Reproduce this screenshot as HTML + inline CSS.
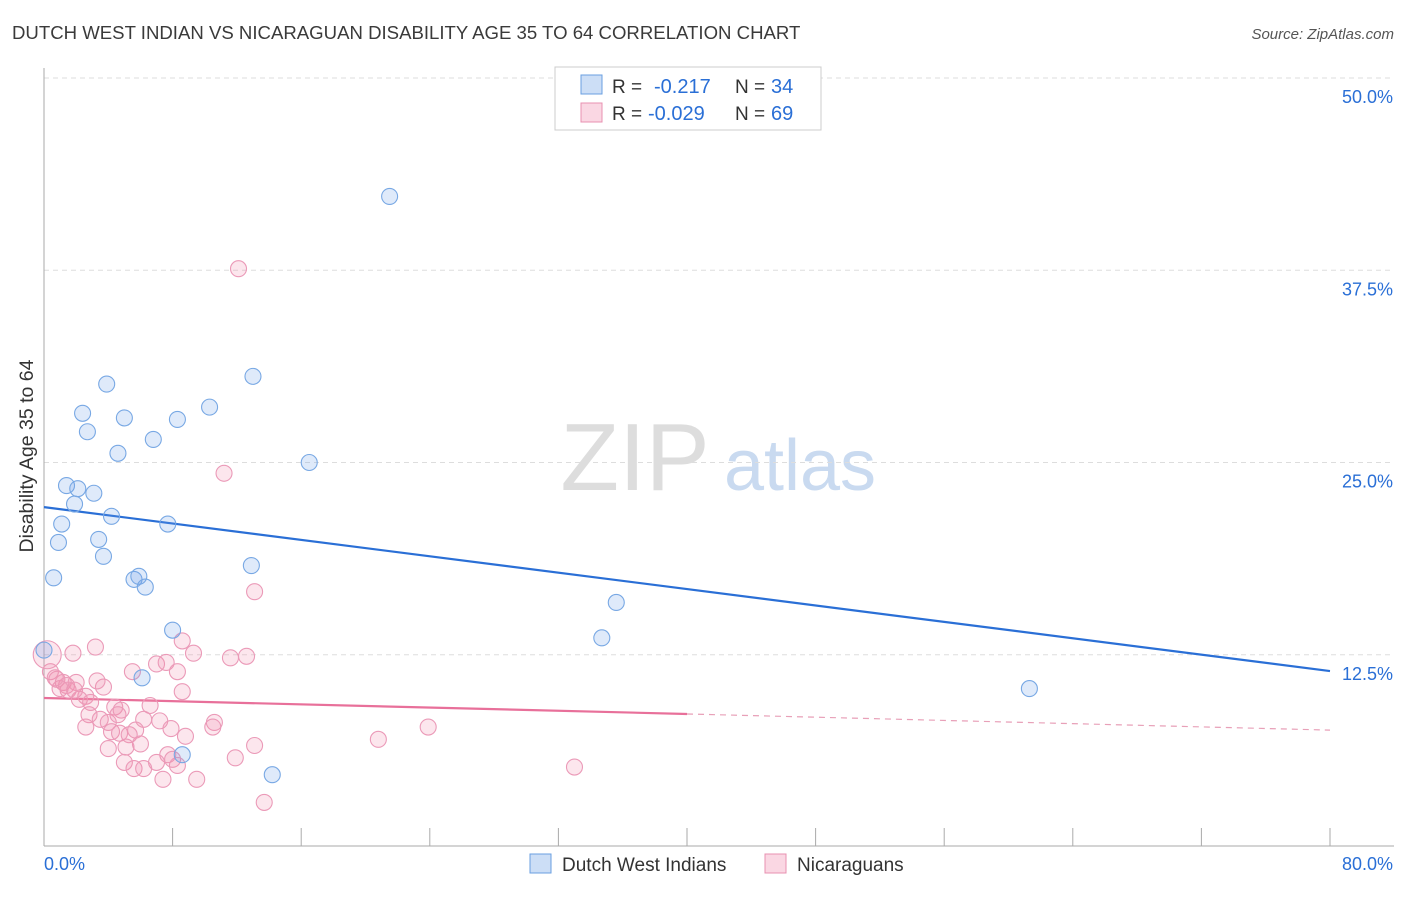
<!DOCTYPE html>
<html><head><meta charset="utf-8"><style>
body{margin:0;background:#fff;font-family:"Liberation Sans",sans-serif;}
svg text{font-family:"Liberation Sans",sans-serif;}
</style></head><body>
<svg id="chart" width="1406" height="892" xmlns="http://www.w3.org/2000/svg">
<text x="12" y="39" font-size="18.6" fill="#3a3a3a">DUTCH WEST INDIAN VS NICARAGUAN DISABILITY AGE 35 TO 64 CORRELATION CHART</text>
<text x="1394" y="39" font-size="15" fill="#555" text-anchor="end" font-style="italic">Source: ZipAtlas.com</text>
<text transform="translate(33,456) rotate(-90)" font-size="19.5" fill="#333" text-anchor="middle">Disability Age 35 to 64</text>
<g>
<text x="635" y="490" font-size="96" fill="#ddd" text-anchor="middle" font-family="Liberation Serif">ZIP</text>
<text x="800" y="490" font-size="72" fill="#c9daf0" text-anchor="middle">atlas</text>
</g>
<g id="grid"></g><g id="axes"></g><g id="trends"></g><g id="pts"></g>
<g>
<rect x="555" y="67" width="266" height="63" fill="#fff" stroke="#ccc"/>
<rect x="581" y="75" width="21" height="19" fill="rgba(110,160,230,0.35)" stroke="#6a9fe0"/>
<rect x="581" y="103" width="21" height="19" fill="rgba(240,140,175,0.35)" stroke="#e890b0"/>
<text x="612" y="93" font-size="19" fill="#333">R =</text>
<text x="654" y="93" font-size="20" fill="#2a6fd6">-0.217</text>
<text x="735" y="93" font-size="19" fill="#333">N =</text>
<text x="771" y="93" font-size="20" fill="#2a6fd6">34</text>
<text x="612" y="120" font-size="19" fill="#333">R =</text>
<text x="648" y="120" font-size="20" fill="#2a6fd6">-0.029</text>
<text x="735" y="120" font-size="19" fill="#333">N =</text>
<text x="771" y="120" font-size="20" fill="#2a6fd6">69</text>
</g>
<g>
<rect x="530" y="854" width="21" height="19" fill="rgba(110,160,230,0.35)" stroke="#6a9fe0"/>
<text x="562" y="871" font-size="19" fill="#333">Dutch West Indians</text>
<rect x="765" y="854" width="21" height="19" fill="rgba(240,140,175,0.35)" stroke="#e890b0"/>
<text x="797" y="871" font-size="19" fill="#333">Nicaraguans</text>
</g>
</svg>
<script>
const blueX=[21.5,3.9,13.0,2.4,5.0,10.3,8.3,2.7,6.8,4.6,16.5,1.4,2.1,3.1,1.9,4.2,1.1,7.7,0.9,3.4,3.7,12.9,0.6,5.6,5.9,6.3,35.6,8.0,34.7,0,6.1,61.3,8.6,14.2];
const blueY=[42.3,30.1,30.6,28.2,27.9,28.6,27.8,27.0,26.5,25.6,25.0,23.5,23.3,23.0,22.3,21.5,21.0,21.0,19.8,20.0,18.9,18.3,17.5,17.4,17.6,16.9,15.9,14.1,13.6,12.8,11.0,10.3,6.0,4.7];
const pinkX=[12.1,11.2,13.1,3.2,1.8,8.6,9.3,12.6,11.6,5.5,7.0,7.6,8.3,0.4,0.8,1.2,1.4,2.0,1.5,3.7,3.3,8.6,1.0,2.6,2.2,2.9,6.6,4.4,4.8,2.8,3.5,6.2,7.2,4.0,5.7,10.6,23.9,7.9,8.8,10.5,4.2,4.7,5.3,20.8,4.0,13.1,6.0,5.1,7.7,8.0,5.0,11.9,7.0,8.3,5.6,6.2,33.0,7.4,9.5,13.7,0.2,2.6,4.6,1.9,0.7];
const pinkY=[37.6,24.3,16.6,13.0,12.6,13.4,12.6,12.4,12.3,11.4,11.9,12.0,11.4,11.4,10.9,10.7,10.5,10.7,10.2,10.4,10.8,10.1,10.3,9.8,9.6,9.4,9.2,9.1,8.9,8.6,8.3,8.3,8.2,8.1,7.6,8.1,7.8,7.7,7.2,7.8,7.5,7.4,7.3,7.0,6.4,6.6,6.7,6.5,6.0,5.7,5.5,5.8,5.5,5.3,5.1,5.1,5.2,4.4,4.4,2.9,12.5,7.8,8.6,10.2,11.0];
const yTicks=[12.5,25.0,37.5,50.0];
const xTickVals=[0,8,16,24,32,40,48,56,64,72,80];
const blueTrend=[22.1,11.44];
const pinkTrend=[9.69,8.65,7.6];
const NS="http://www.w3.org/2000/svg";
const X=v=>44+v*(1286/80);
const Y=v=>847-v*(769/50);
function mk(t,a,p){const e=document.createElementNS(NS,t);for(const k in a)e.setAttribute(k,a[k]);p.appendChild(e);return e;}
const grid=document.getElementById('grid'),axes=document.getElementById('axes'),tr=document.getElementById('trends'),pts=document.getElementById('pts');
yTicks.forEach(v=>{
 const l=mk('line',{x1:44,x2:1394,y1:Y(v),y2:Y(v),stroke:'#ddd','stroke-dasharray':'5,4'},grid);
 
 
 const t=mk('text',{x:1393,y:Y(v)+25,'font-size':18,fill:'#2a6fd6','text-anchor':'end'},axes);
 t.textContent=v.toFixed(1)+'%';
 
 
});
const ax=mk('line',{x1:44,x2:44,y1:68,y2:846,stroke:'#aaa'},axes);


const bx=mk('line',{x1:44,x2:1394,y1:846,y2:846,stroke:'#aaa'},axes);


xTickVals.forEach(v=>{
 const l=mk('line',{x1:X(v),x2:X(v),y1:828,y2:846,stroke:'#aaa'},axes);
 
 
});
[[0,'start'],[80,'end']].forEach(([v,a])=>{
 const t=mk('text',{x:v==0?X(v):X(v)+63,y:870,'font-size':18,fill:'#2a6fd6','text-anchor':a},axes);
 t.textContent=v.toFixed(1)+'%';
 
 
});
const bt=mk('line',{x1:X(0),y1:Y(blueTrend[0]),x2:X(80),y2:Y(blueTrend[1]),stroke:'#2a6fd6','stroke-width':2.2},tr);


const pt=mk('line',{x1:X(0),y1:Y(pinkTrend[0]),x2:X(40),y2:Y(pinkTrend[1]),stroke:'#e8709a','stroke-width':2.2},tr);


const pd=mk('line',{x1:X(40),y1:Y(pinkTrend[1]),x2:X(80),y2:Y(pinkTrend[2]),stroke:'#e8a0b8','stroke-width':1.2,'stroke-dasharray':'6,5'},tr);


pinkX.forEach((v,i)=>{
 const c=mk('circle',{cx:X(v),cy:Y(pinkY[i]),r:(i==60?14:8),fill:'rgba(240,140,175,0.22)',stroke:'#eb9ab8','stroke-width':1.1},pts);
 
 
});
blueX.forEach((v,i)=>{
 const c=mk('circle',{cx:X(v),cy:Y(blueY[i]),r:8,fill:'rgba(110,160,230,0.22)',stroke:'#78a8e4','stroke-width':1.1},pts);
 
 
});
</script>
</body></html>
